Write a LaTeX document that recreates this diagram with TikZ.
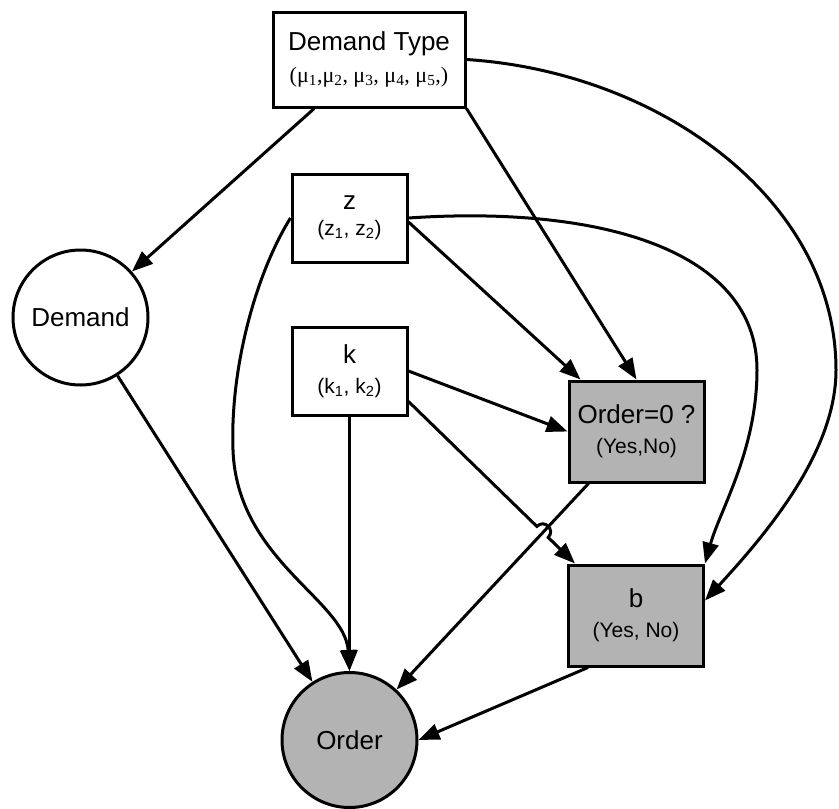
\documentclass[tikz,border=0pt]{standalone}
\usepackage{fontspec}
\setmainfont{Liberation Sans}
\newfontfamily\greekserif{Liberation Serif}
\usetikzlibrary{arrows.meta, calc}
\definecolor{nodefill}{HTML}{B3B3B3}
\newcommand{\labsize}{\fontsize{26}{30}\selectfont}
\newcommand{\subsize}{\fontsize{21}{24}\selectfont}

\begin{document}
\begin{tikzpicture}[
    x=1pt, y=-1pt,
    varbox/.style={draw, line width=3pt, fill=white, align=center,
                   font=\labsize, inner sep=0pt},
    decbox/.style={varbox, fill=nodefill},
    chance/.style={draw, circle, line width=3pt, minimum size=135pt,
                   font=\labsize, inner sep=0pt},
    arr/.style={-{Triangle[length=21pt, width=16pt]}, line width=3pt},
  ]
    \useasboundingbox (0,0) rectangle (839,809);

    % variables (white) and decisions (grey)
    \node[varbox, minimum width=192pt, minimum height=95pt] (dtype) at (369,59.5)
      {Demand Type\\[2pt]{\greekserif\fontsize{22}{24}\selectfont(μ\textsubscript{1},μ\textsubscript{2}, μ\textsubscript{3}, μ\textsubscript{4}, μ\textsubscript{5},)}};
    \node[varbox, minimum width=115pt, minimum height=88pt] (zbox) at (349.5,218)
      {\raisebox{-4pt}{z}\\{\subsize(z\textsubscript{1}, z\textsubscript{2})}};
    \node[varbox, minimum width=115pt, minimum height=88pt] (kbox) at (349.5,371)
      {k\\{\subsize(k\textsubscript{1}, k\textsubscript{2})}};
    \node[decbox, minimum width=135pt, minimum height=101pt] (ozero) at (636.5,431.5)
      {Order=0 ?\\{\subsize(Yes,No)}};
    \node[decbox, minimum width=135pt, minimum height=101pt] (bbox) at (636,615.5)
      {b\\{\subsize(Yes, No)}};

    \node[chance] (demand) at (80.5,317.5) {Demand};
    \node[chance, fill=nodefill] (order) at (349.5,740) {Order};

    % straight arcs
    \draw[arr] (dtype) -- (demand);
    \draw[arr] (dtype.south east) -- (ozero.north);
    \draw[arr] ([yshift=-4pt]zbox.east) -- ([xshift=13pt]ozero.north west);
    \draw[arr] (kbox.east) -- (ozero.west);
    \draw[arr] (kbox.south) -- (order.north);
    \draw[arr] (demand) -- (order);
    \draw[arr] ([xshift=21pt]ozero.south west) -- (order);
    \draw[arr] ([xshift=21pt]bbox.south west) -- (order.east);

    % k -> b, hopping over Order=0 -> Order
    \coordinate (kstart) at ([yshift=15pt]kbox.south east);
    \coordinate (kend) at ([xshift=8pt]bbox.north west);
    \coordinate (hopin) at ($(kstart)!0.771!(kend)$);
    \coordinate (hopout) at ($(kstart)!0.839!(kend)$);
    \draw[arr] (kstart) -- (hopin)
      .. controls ($(hopin)!10.7pt!90:(hopout)$) and ($(hopout)!10.7pt!-90:(hopin)$) .. (hopout)
      -- (kend);

    % curved arcs
    \draw[arr] (dtype.east) .. controls (660,72) and (836,200) .. (836,370)
      .. controls (836,450) and (770,530) .. ([yshift=15pt]bbox.east);
    \draw[arr] (zbox.east) .. controls (600,205) and (757,250) .. (757,370)
      .. controls (757,450) and (720,510) .. (bbox.north east);
    \draw[arr] (zbox.west) .. controls (255,275) and (230,370) .. (233,450)
      .. controls (237,560) and (345,600) .. (order.north);
\end{tikzpicture}
\end{document}
